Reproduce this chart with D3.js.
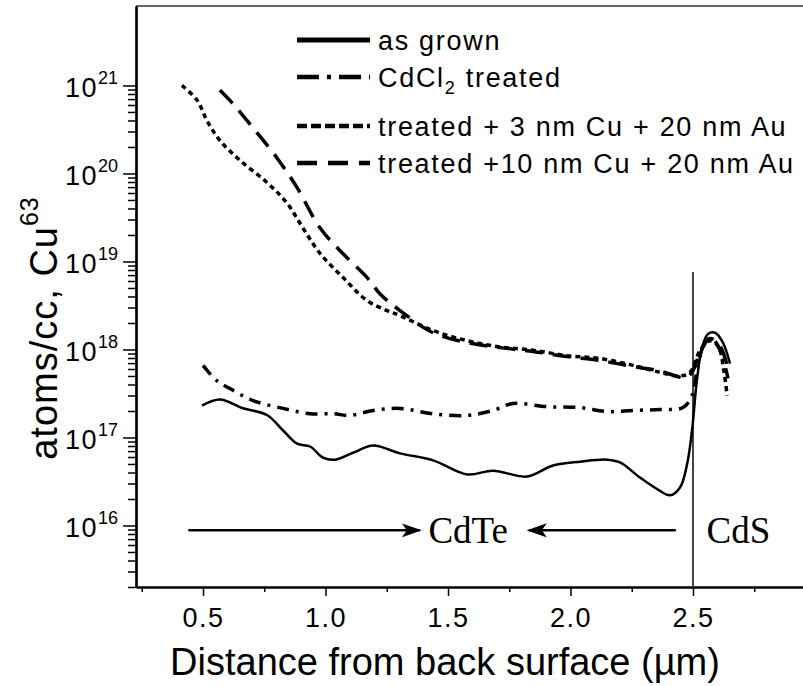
<!DOCTYPE html>
<html>
<head>
<meta charset="utf-8">
<script src="https://cdn.jsdelivr.net/npm/d3@7"></script>
<style>
  body { margin: 0; background: #fff; }
  svg { display: block; }
  text { font-family: "Liberation Sans", Arial, sans-serif; fill: #000; }
  .serif { font-family: "Liberation Serif", "Times New Roman", serif; }
</style>
</head>
<body>
<svg id="chart" width="803" height="686"></svg>
<script>
// ---- data ----
// x in um, y in atoms/cc
const asGrownX = [0.496,0.569,0.663,0.761,0.827,0.884,0.937,0.990,1.039,1.112,1.194,1.304,1.439,1.578,1.684,1.822,1.929,2.039,2.149,2.202,2.284,2.353,2.406,2.447,2.476,2.496,2.516,2.537,2.561,2.59,2.622,2.651];
const asGrownY = [2.3e17,2.7e17,2.15e17,1.8e17,1.2e17,8.5e16,7.9e16,5.9e16,5.6e16,6.7e16,8.1e16,6.6e16,5.5e16,3.8e16,4.2e16,3.6e16,4.8e16,5.3e16,5.6e16,5.2e16,3.5e16,2.6e16,2.2e16,2.7e16,5.0e16,1.2e17,4.5e17,1.05e18,1.5e18,1.55e18,1.2e18,6.9e17];

const cdcl2X = [0.5,0.557,0.61,0.704,0.827,0.937,1.031,1.1,1.194,1.304,1.439,1.578,1.684,1.765,1.904,2.039,2.149,2.255,2.365,2.459,2.496,2.52,2.549,2.578,2.61,2.643];
const cdcl2Y = [6.6e17,4.4e17,3.6e17,2.63e17,2.14e17,1.86e17,1.86e17,1.78e17,2.03e17,2.14e17,1.86e17,1.78e17,2.03e17,2.43e17,2.24e17,2.19e17,1.97e17,2.03e17,2.08e17,2.19e17,3.0e17,6.6e17,1.2e18,1.33e18,9.8e17,4.7e17];

const cu3X = [0.414,0.476,0.516,0.569,0.651,0.761,0.843,0.908,0.978,1.071,1.169,1.251,1.304,1.439,1.578,1.712,1.847,1.986,2.12,2.255,2.365,2.447,2.488,2.529,2.569,2.602,2.627,2.639];
const cu3Y = [1e21,6.8e20,4e20,2.37e20,1.41e20,7.9e19,4.6e19,2.4e19,1.23e19,6.6e18,3.6e18,2.77e18,2.43e18,1.64e18,1.26e18,1.07e18,9.8e17,8.5e17,7.9e17,6.6e17,5.5e17,5.0e17,5.5e17,9.8e17,1.26e18,1.1e18,5.5e17,3.0e17];

const cu10X = [0.569,0.622,0.704,0.802,0.884,0.978,1.071,1.169,1.222,1.304,1.439,1.578,1.712,1.847,1.986,2.12,2.255,2.365,2.467,2.496,2.529,2.569,2.61,2.643];
const cu10Y = [8.8e20,6.2e20,3.3e20,1.5e20,6.9e19,2.4e19,1.23e19,6.6e18,4.3e18,2.77e18,1.55e18,1.2e18,1.05e18,9.5e17,8.3e17,7.5e17,6.4e17,5.7e17,4.8e17,5.5e17,9.2e17,1.33e18,1.1e18,6.0e17];

const legendLabels = [["as grown"], ["CdCl", "2", " treated"], ["treated + 3 nm Cu + 20 nm Au"], ["treated +10 nm Cu + 20 nm Au"]];
const xTicks = [0.5, 1.0, 1.5, 2.0, 2.5];
const xMinorTicks = [0.25, 0.75, 1.25, 1.75, 2.25, 2.75];
const yTicks = [1e16, 1e17, 1e18, 1e19, 1e20, 1e21];
const interfaceX = 2.5;

// ---- chart ----
const svg = d3.select("#chart");
const plotL = 136, plotR = 803, plotT = 6, plotB = 587;

const x = d3.scaleLinear().domain([0.2265, 2.949]).range([plotL, plotR]);
const y = d3.scaleLog().domain([2e15, 8e21]).range([plotB, plotT]);

// frame top line
svg.append("line")
  .attr("x1", plotL).attr("x2", plotR).attr("y1", plotT).attr("y2", plotT)
  .attr("stroke", "#333").attr("stroke-width", 1.5);

// x axis
const xMinor = svg.append("g").attr("transform", `translate(0,${plotB})`)
  .call(d3.axisBottom(x).tickValues(xMinorTicks).tickSize(5).tickFormat("").tickSizeOuter(0));
const xAxis = svg.append("g").attr("transform", `translate(0,${plotB})`)
  .call(d3.axisBottom(x).tickValues(xTicks).tickSize(9).tickPadding(12).tickFormat(d3.format(".1f")).tickSizeOuter(0));
xAxis.selectAll("text")
  .style("font-size", "27px").style("letter-spacing", "1.5px")
  .style("font-family", "'Liberation Sans', Arial, sans-serif").attr("fill", "#000");

// y axis
const minor = [];
for (let e = 15; e <= 20; e++) for (let m = 2; m <= 9; m++) if (m * Math.pow(10, e) >= 2e15) minor.push(m * Math.pow(10, e));
const yMinor = svg.append("g").attr("transform", `translate(${plotL},0)`)
  .call(d3.axisLeft(y).tickValues(minor).tickSize(8).tickFormat("").tickSizeOuter(0));
const yAxis = svg.append("g").attr("transform", `translate(${plotL},0)`)
  .call(d3.axisLeft(y).tickValues(yTicks).tickSize(13).tickPadding(5).tickFormat("").tickSizeOuter(0));
yAxis.selectAll(".tick text").each(function (d) {
  const t = d3.select(this).style("font-size", "27px").attr("fill", "#000")
    .style("font-family", "'Liberation Sans', Arial, sans-serif").attr("dy", "0.42em");
  t.append("tspan").style("letter-spacing", "1.5px").text("10");
  t.append("tspan").style("font-size", "18px").attr("dy", "-0.75em").text(Math.round(Math.log10(d)));
});

[xMinor, xAxis, yMinor, yAxis].forEach(g => {
  g.selectAll("line").attr("stroke", "#000").attr("stroke-width", 1.5);
  g.select(".domain").attr("stroke", "#000").attr("stroke-width", 2.2);
});

// axis titles
svg.append("text")
  .attr("x", 445).attr("y", 675).attr("text-anchor", "middle")
  .style("font-size", "38px").text("Distance from back surface (\u00b5m)");

const yt = svg.append("text")
  .attr("transform", "translate(57,328) rotate(-90)")
  .attr("text-anchor", "middle").style("font-size", "38px").style("letter-spacing", "1px");
yt.append("tspan").text("atoms/cc, Cu");
yt.append("tspan").style("font-size", "25px").attr("dy", "-0.75em").text("63");

// interface line
svg.append("line")
  .attr("x1", x(interfaceX)).attr("x2", x(interfaceX))
  .attr("y1", 272).attr("y2", plotB)
  .attr("stroke", "#444").attr("stroke-width", 2);

// series
const line = d3.line().x(d => x(d[0])).y(d => y(d[1])).curve(d3.curveCatmullRom);
const series = [
  { xs: asGrownX, ys: asGrownY, w: 2.5, dash: null, lw: 5, ldash: null },
  { xs: cdcl2X, ys: cdcl2Y, w: 3.5, dash: "12,7,3,7", lw: 4.5, ldash: "22,8,4,8" },
  { xs: cu3X, ys: cu3Y, w: 3.5, dash: "5,4", lw: 4.5, ldash: "10,4" },
  { xs: cu10X, ys: cu10Y, w: 3.5, dash: "18,10", lw: 4.5, ldash: "20,11" }
];
series.forEach(s => {
  svg.append("path")
    .datum(d3.zip(s.xs, s.ys))
    .attr("d", line)
    .attr("fill", "none").attr("stroke", "#000")
    .attr("stroke-width", s.w)
    .attr("stroke-dasharray", s.dash);
});

// legend
const legendY = [40, 77, 126, 163];
const lg = svg.append("g");
series.forEach((s, i) => {
  lg.append("line")
    .attr("x1", 297).attr("x2", 370).attr("y1", legendY[i]).attr("y2", legendY[i])
    .attr("stroke", "#000").attr("stroke-width", s.lw)
    .attr("stroke-dasharray", s.ldash);
  const t = lg.append("text").attr("x", 378).attr("y", legendY[i] + 10)
    .style("font-size", "27px").style("letter-spacing", "1.7px");
  legendLabels[i].forEach((p, k) => {
    const sp = t.append("tspan").text(p);
    if (k % 2 === 1) sp.style("font-size", "18px").attr("dy", 7);
    else if (k > 0) sp.attr("dy", -7);
  });
});

// region annotations
const defs = svg.append("defs");
defs.append("marker").attr("id", "arr")
  .attr("viewBox", "0 0 20 14").attr("refX", 18).attr("refY", 7)
  .attr("markerWidth", 20).attr("markerHeight", 14)
  .attr("markerUnits", "userSpaceOnUse").attr("orient", "auto")
  .append("path").attr("d", "M0,0 L20,7 L0,14 L5,7 Z").attr("fill", "#000");

const annY = 8.8e15;
svg.append("line")
  .attr("x1", x(0.44)).attr("x2", x(1.385)).attr("y1", y(annY)).attr("y2", y(annY))
  .attr("stroke", "#000").attr("stroke-width", 2.5).attr("marker-end", "url(#arr)");
svg.append("line")
  .attr("x1", x(2.43)).attr("x2", x(1.83)).attr("y1", y(annY)).attr("y2", y(annY))
  .attr("stroke", "#000").attr("stroke-width", 2.5).attr("marker-end", "url(#arr)");
svg.append("text").attr("class", "serif")
  .attr("x", x(1.42)).attr("y", y(annY) + 13).style("font-size", "37px").text("CdTe");
svg.append("text").attr("class", "serif")
  .attr("x", x(2.555)).attr("y", y(annY) + 13).style("font-size", "37px").text("CdS");
</script>
</body>
</html>
